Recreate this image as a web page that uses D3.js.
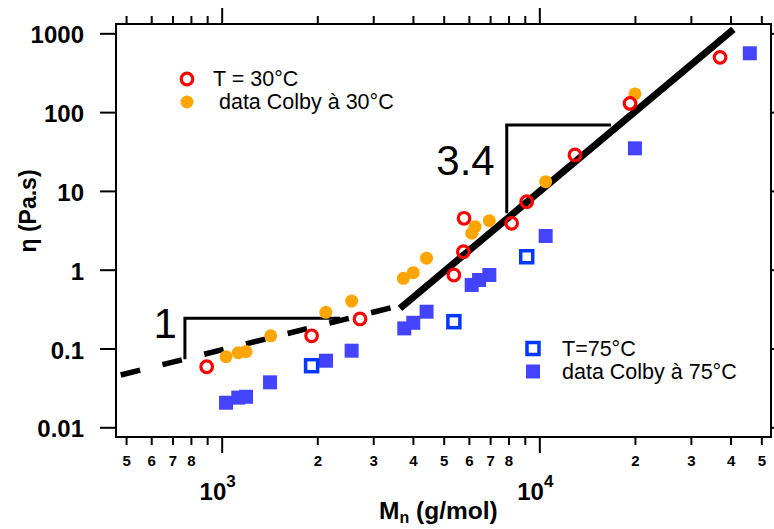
<!DOCTYPE html>
<html><head><meta charset="utf-8">
<script src="https://cdn.jsdelivr.net/npm/d3@7"></script>
<style>
html,body{margin:0;padding:0;background:#fff;}
svg text{font-family:"Liberation Sans",Arial,sans-serif;}
</style></head>
<body>
<svg id="chart" width="774" height="529"></svg>
<script>
// ---- data (Mn in g/mol, viscosity in Pa.s) ----
const mnT30 = [897, 1919, 2726, 5383, 5768, 5795, 8184, 9127, 12950, 19300, 37070];
const etaT30 = [0.0587, 0.145, 0.237, 0.857, 1.69, 4.49, 3.88, 7.30, 28.6, 129, 495];

const mnColby30 = [1032, 1128, 1193, 1427, 2127, 2565, 3733, 4010, 4416, 6125, 6276, 6960, 10470, 20000];
const etaColby30 = [0.0787, 0.0885, 0.0915, 0.145, 0.288, 0.40, 0.778, 0.916, 1.40, 2.90, 3.52, 4.19, 13.1, 170];

const mnT75 = [1919, 5383, 9127];
const etaT75 = [0.0605, 0.219, 1.46];

const mnColby75 = [1032, 1128, 1193, 1420, 2130, 2565, 3757, 4010, 4416, 6125, 6460, 6960, 10470, 20000, 46000];
const etaColby75 = [0.0205, 0.0238, 0.0244, 0.0372, 0.070, 0.0938, 0.18, 0.212, 0.293, 0.64, 0.74, 0.857, 2.68, 34.7, 558];

// power-law guide lines (slope 1 dashed, slope 3.4 solid)
const fitSlope1Mn = [481, 3428];
const fitSlope1Eta = [0.0461, 0.33];
const fitSlope34Mn = [3642, 40830];
const fitSlope34Eta = [0.3236, 1124];

// slope triangles
const tri34Mn = [7897, 7897, 16820];
const tri34Eta = [5.2, 68.5, 68.5];
const tri1Mn = [766, 766, 2358];
const tri1Eta = [0.0729, 0.2415, 0.2415];
const slopeLabels = ["3.4", "1"];

// axis ticks
const yTicks = [0.01, 0.1, 1, 10, 100, 1000];
const yTickLabels = ["0.01", "0.1", "1", "10", "100", "1000"];
const xMajorTicks = [1000, 10000];
const xMajorExp = ["3", "4"];
const xMinorTicks = [500, 600, 700, 800, 900, 2000, 3000, 4000, 5000, 6000, 7000, 8000, 9000, 20000, 30000, 40000, 50000];
const xMinorLabels = ["5", "6", "7", "8", "", "2", "3", "4", "5", "6", "7", "8", "", "2", "3", "4", "5"];

const legend1 = ["T = 30°C", " data Colby à 30°C"];
const legend2 = ["T=75°C", "data Colby à 75°C"];

// ---- layout ----
const L = 116, R = 771, T = 24, B = 437;
const svg = d3.select("#chart");
const x = d3.scaleLog().domain([464.8, 53630]).range([L, R]);
const y = d3.scaleLog().domain([0.00753, 1313]).range([B, T]);

const RED = "#ff0000", ORANGE = "#ffa500", BLUE_OPEN = "#0038ff", BLUE_FILL = "#4444ff";

// frame
svg.append("rect").attr("x", L).attr("y", T).attr("width", R - L).attr("height", B - T)
  .attr("fill", "none").attr("stroke", "#000").attr("stroke-width", 2);

// axes
const gBottom = svg.append("g").attr("transform", `translate(0,${B})`)
  .call(d3.axisBottom(x).tickValues(xMinorTicks).tickSize(8).tickFormat((d, i) => xMinorLabels[i]));
const gBottomMaj = svg.append("g").attr("transform", `translate(0,${B})`)
  .call(d3.axisBottom(x).tickValues(xMajorTicks).tickSize(16).tickFormat(""));
const gTop = svg.append("g").attr("transform", `translate(0,${T})`)
  .call(d3.axisTop(x).tickValues(xMinorTicks).tickSize(8).tickFormat(""));
const gTopMaj = svg.append("g").attr("transform", `translate(0,${T})`)
  .call(d3.axisTop(x).tickValues(xMajorTicks).tickSize(16).tickFormat(""));
const gLeft = svg.append("g").attr("transform", `translate(${L},0)`)
  .call(d3.axisLeft(y).tickValues(yTicks).tickSize(16).tickFormat((d, i) => yTickLabels[i]));
const gRight = svg.append("g").attr("transform", `translate(${R},0)`)
  .call(d3.axisRight(y).tickValues(yTicks).tickSize(16).tickFormat(""));

[gBottom, gBottomMaj, gTop, gTopMaj, gLeft, gRight].forEach(g => {
  g.select(".domain").remove();
  g.selectAll(".tick line").attr("stroke", "#000").attr("stroke-width", 2);
});
gBottom.selectAll(".tick text").attr("font-size", 15).attr("font-weight", "bold")
  .attr("font-family", "Liberation Sans, Arial, sans-serif").attr("fill", "#000")
  .attr("y", 0).attr("dy", null).attr("transform", "translate(0,29)");
gLeft.selectAll(".tick text").attr("font-size", 24).attr("font-weight", "bold")
  .attr("font-family", "Liberation Sans, Arial, sans-serif").attr("fill", "#000")
  .attr("x", -32).attr("dy", "0.4em");

// major labels 10^n
xMajorTicks.forEach((v, i) => {
  const t = svg.append("text").attr("x", x(v) - 4).attr("y", 500)
    .attr("text-anchor", "middle").attr("font-weight", "bold").attr("font-size", 24);
  t.append("tspan").text("10");
  t.append("tspan").attr("font-size", 17).attr("dy", -13).text(xMajorExp[i]);
});

// axis titles
const xt = svg.append("text").attr("x", 379).attr("y", 519).attr("font-weight", "bold").attr("font-size", 24.5);
xt.append("tspan").text("M");
xt.append("tspan").attr("font-size", 16).attr("dy", 4).text("n");
xt.append("tspan").attr("dy", -4).text(" (g/mol)");

svg.append("text").attr("transform", "translate(36,211) rotate(-90)")
  .attr("text-anchor", "middle").attr("font-weight", "bold").attr("font-size", 23)
  .text("η (Pa.s)");

// guide lines
const line = d3.line().x(d => x(d[0])).y(d => y(d[1]));
svg.append("path").attr("d", line(d3.zip(fitSlope1Mn, fitSlope1Eta)))
  .attr("fill", "none").attr("stroke", "#000").attr("stroke-width", 5.5)
  .attr("stroke-dasharray", "20,23");
svg.append("path").attr("d", line(d3.zip(fitSlope34Mn, fitSlope34Eta)))
  .attr("fill", "none").attr("stroke", "#000").attr("stroke-width", 7);
svg.append("path").attr("d", line(d3.zip(tri34Mn, tri34Eta)))
  .attr("fill", "none").attr("stroke", "#000").attr("stroke-width", 3);
svg.append("path").attr("d", line(d3.zip(tri1Mn, tri1Eta)))
  .attr("fill", "none").attr("stroke", "#000").attr("stroke-width", 3);

svg.append("text").attr("x", x(tri34Mn[0]) - 12).attr("y", y(tri34Eta[0]) - 38)
  .attr("text-anchor", "end").attr("font-size", 42).text(slopeLabels[0]);
svg.append("text").attr("x", x(tri1Mn[0]) - 8).attr("y", y(tri1Eta[0]) - 21)
  .attr("text-anchor", "end").attr("font-size", 42).text(slopeLabels[1]);

// markers
const gPts = svg.append("g");
gPts.append("g").selectAll("rect").data(d3.zip(mnColby75, etaColby75)).join("rect")
  .attr("x", d => x(d[0]) - 7).attr("y", d => y(d[1]) - 7).attr("width", 14).attr("height", 14)
  .attr("fill", BLUE_FILL);
gPts.append("g").selectAll("rect").data(d3.zip(mnT75, etaT75)).join("rect")
  .attr("x", d => x(d[0]) - 6).attr("y", d => y(d[1]) - 6).attr("width", 12).attr("height", 12)
  .attr("fill", "#fff").attr("stroke", BLUE_OPEN).attr("stroke-width", 3.5);
gPts.append("g").selectAll("circle").data(d3.zip(mnColby30, etaColby30)).join("circle")
  .attr("cx", d => x(d[0])).attr("cy", d => y(d[1])).attr("r", 6.5).attr("fill", ORANGE);
gPts.append("g").selectAll("circle").data(d3.zip(mnT30, etaT30)).join("circle")
  .attr("cx", d => x(d[0])).attr("cy", d => y(d[1])).attr("r", 5.8)
  .attr("fill", "none").attr("stroke", RED).attr("stroke-width", 3.2);

// legends
svg.append("circle").attr("cx", 187).attr("cy", 79).attr("r", 5.8).attr("fill", "none")
  .attr("stroke", RED).attr("stroke-width", 3.2);
svg.append("circle").attr("cx", 187).attr("cy", 102).attr("r", 6.5).attr("fill", ORANGE);
svg.append("text").attr("x", 213).attr("y", 86).attr("font-size", 21.5).text(legend1[0]);
svg.append("text").attr("x", 213).attr("y", 109).attr("font-size", 21.5)
  .attr("xml:space", "preserve").style("white-space", "pre").text(legend1[1]);

svg.append("rect").attr("x", 527).attr("y", 342.5).attr("width", 12).attr("height", 12)
  .attr("fill", "#fff").attr("stroke", BLUE_OPEN).attr("stroke-width", 3.5);
svg.append("rect").attr("x", 526).attr("y", 364.5).attr("width", 14).attr("height", 14).attr("fill", BLUE_FILL);
svg.append("text").attr("x", 562).attr("y", 356).attr("font-size", 21.5).text(legend2[0]);
svg.append("text").attr("x", 562).attr("y", 379).attr("font-size", 21.5).text(legend2[1]);
</script>
</body></html>
